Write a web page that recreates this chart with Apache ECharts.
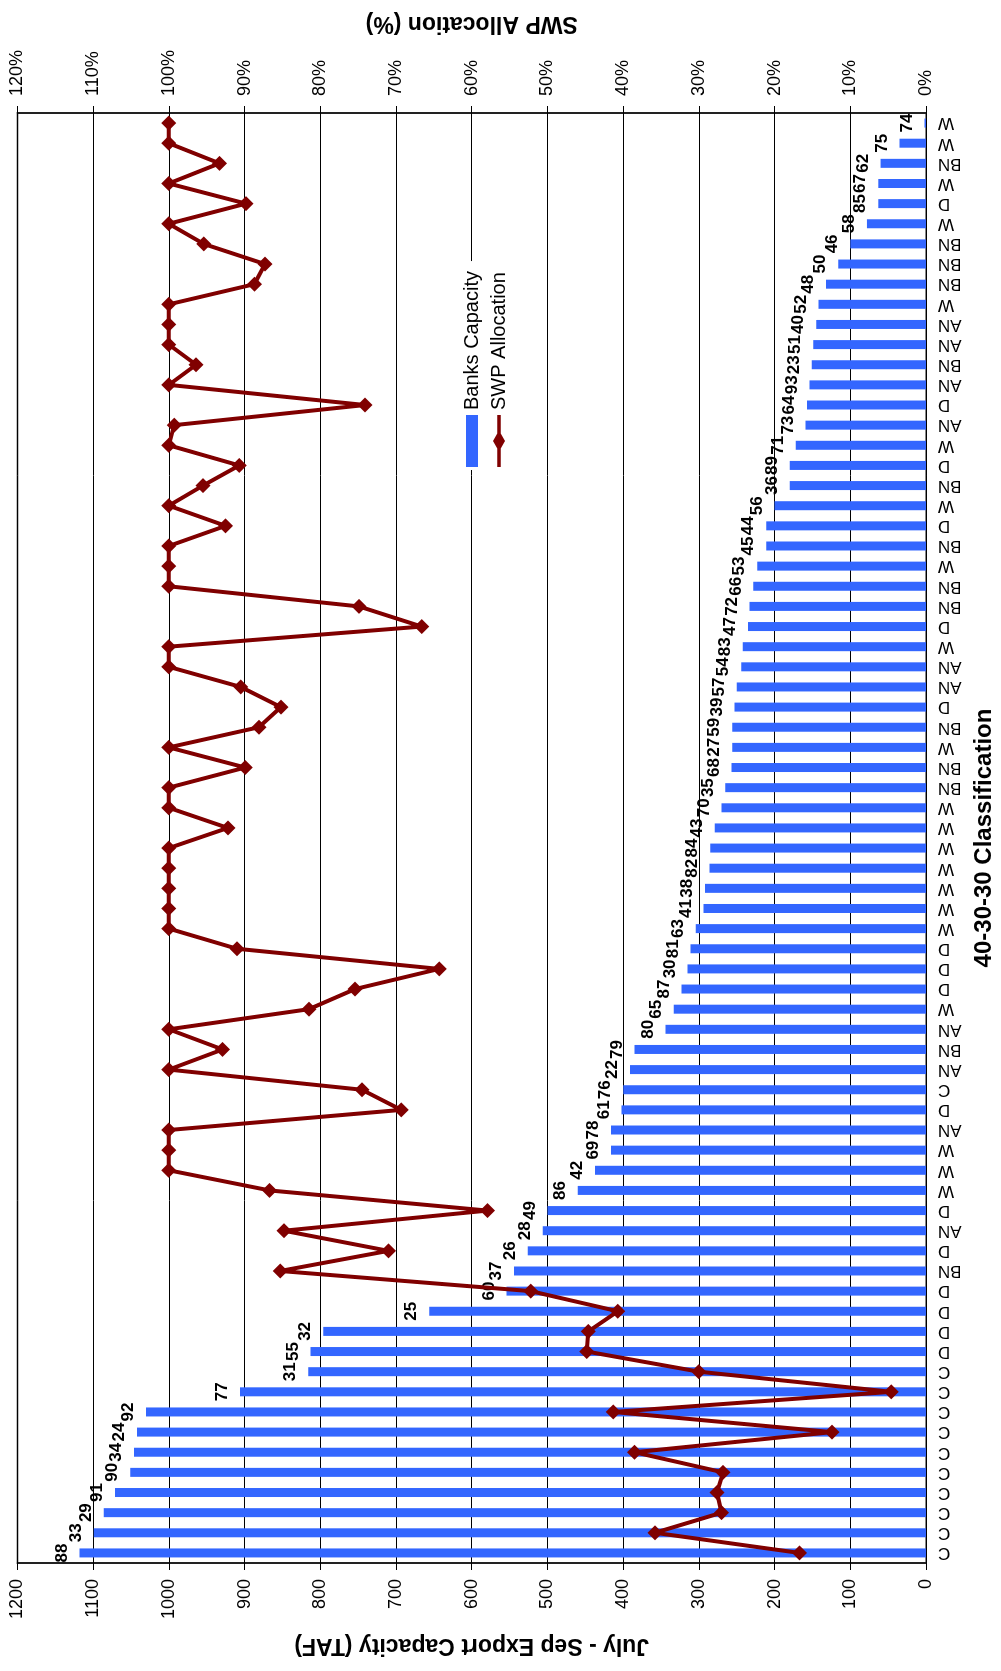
<!DOCTYPE html>
<html>
<head>
<meta charset="utf-8">
<script src="https://cdn.jsdelivr.net/npm/echarts@6/dist/echarts.min.js"></script>
<style>
html,body{margin:0;padding:0;background:#fff;overflow:hidden;width:1001px;height:1671px;}
#wrap{position:absolute;left:0;top:0;width:1671px;height:1001px;transform-origin:0 0;transform:translate(0,1671px) rotate(-90deg);}
#chart{width:1671px;height:1001px;}
</style>
</head>
<body>
<div id="wrap"><div id="chart"></div></div>
<script>
// 40-30-30 classification of each year (sorted by Banks capacity, descending)
const categories = ['C','C','C','C','C','C','C','C','C','C',
  'D','D','D','D','BN','D','AN','D','W','W','W','AN','D','C','AN','BN','AN','W','D','D',
  'D','W','W','W','W','W','W','W','BN','BN','W','BN','D','AN','AN','W','D','BN','BN','W',
  'BN','D','W','BN','D','W','AN','D','AN','BN','AN','AN','W','BN','BN','BN','W','D','W','BN',
  'W','W'];
// Year labels on the bars
const years = ['88','33','29','91','90','34','24','92','77','31',
  '55','32','25','60','37','26','28','49','86','42','69','78','61','76','22','79','80','65','87','30',
  '81','63','41','38','82','84','43','70','35','68','27','59','39','57','54','83','47','72','66','53',
  '45','44','56','36','89','71','73','64','93','23','51','40','52','48','50','46','58','85','67','62',
  '75','74'];
// Banks capacity (TAF)
const capacity = [1118,1099,1086,1071,1051,1046,1042,1030,906,816,
  813,796,656,554,544,526,506,500,460,437,416,416,402,400,391,385,344,333,323,315,
  311,304,294,292,286,285,279,270,265,257,256,256,253,250,244,242,235,233,228,223,
  211,211,200,180,180,172,159,157,154,151,149,145,142,132,116,100,78,63,63,60,
  35,2];
// SWP allocation (%)
const swp = [16.7,35.8,27,27.6,26.8,38.5,12.4,41.3,4.6,30,
  44.8,44.6,40.7,52.2,85.3,71,84.8,57.9,86.7,100,100,100,69.3,74.5,100,92.9,100,81.5,75.4,64.3,
  91,100,100,100,100,100,92.2,100,100,89.9,100,88.1,85.2,90.5,100,100,66.6,74.9,100,100,
  100,92.5,100,95.5,90.7,100,99.3,74.1,100,96.4,100,100,100,88.7,87.3,95.4,100,89.8,100,93.3,
  100,100];
const capTicks = [0,1200,100];
const pctTicks = [0,120,10];

const FONT = "'Liberation Sans', Arial, Helvetica, sans-serif";
const lineIcon = 'path://M0,4.3L18.5,4.3L26,0L33.5,4.3L52,4.3L52,7.7L33.5,7.7L26,12L18.5,7.7L0,7.7Z';
const chart = echarts.init(document.getElementById('chart'), null, {width:1671, height:1001, renderer:'canvas'});
const option = {
  backgroundColor:'#fff',
  animation:false,
  textStyle:{fontFamily:FONT},
  grid:{left:108, right:113, top:17.4, bottom:70.6, show:true, borderColor:'#888', borderWidth:2, backgroundColor:'transparent'},
  legend:{
    orient:'vertical', left:1201, top:457, padding:[5,10,5,3], itemGap:7, itemWidth:52, itemHeight:12,
    backgroundColor:'#fff',
    textStyle:{fontSize:20, color:'#000', fontFamily:FONT},
    data:[{name:'Banks Capacity', icon:'rect'},{name:'SWP Allocation', icon:lineIcon}]
  },
  xAxis:[{
    type:'category', data:categories, position:'bottom',
    axisLine:{lineStyle:{color:'#000', width:1}},
    axisTick:{length:5, lineStyle:{color:'#000'}},
    axisLabel:{rotate:90, interval:0, margin:12, fontSize:17, color:'#000', fontFamily:FONT},
    name:'40-30-30 Classification', nameLocation:'middle', nameGap:46,
    nameTextStyle:{fontSize:24, fontWeight:'bold', color:'#000', fontFamily:FONT}
  },{
    type:'category', data:categories, position:'bottom',
    axisLine:{show:false},
    axisTick:{inside:true, length:7, lineStyle:{color:'#000'}},
    axisLabel:{show:false}
  }],
  yAxis:[{
    type:'value', min:capTicks[0], max:capTicks[1], interval:capTicks[2], position:'left',
    axisLine:{show:true, lineStyle:{color:'#000', width:1.5}},
    axisTick:{show:true, length:7, lineStyle:{color:'#000'}},
    axisLabel:{margin:16, fontSize:18, color:'#000', fontFamily:FONT, formatter:v=>String(v)},
    splitLine:{show:true, lineStyle:{color:'#000', width:1}},
    name:'July - Sep Export Capacity (TAF)', nameLocation:'middle', nameGap:71, nameRotate:90,
    nameTextStyle:{fontSize:23, fontWeight:'bold', color:'#000', fontFamily:FONT}
  },{
    type:'value', min:pctTicks[0], max:pctTicks[1], interval:pctTicks[2], position:'right',
    axisLine:{show:true, lineStyle:{color:'#000', width:1.5}},
    axisTick:{show:true, length:7, lineStyle:{color:'#000'}},
    axisLabel:{margin:17, fontSize:18, color:'#000', fontFamily:FONT, formatter:v=>v+'%'},
    splitLine:{show:false},
    name:'SWP Allocation (%)', nameLocation:'middle', nameGap:78, nameRotate:90,
    nameTextStyle:{fontSize:23, fontWeight:'bold', color:'#000', fontFamily:FONT}
  }],
  series:[{
    type:'bar', name:'Banks Capacity', data:capacity, barWidth:9,
    itemStyle:{color:'#3366FF'},
    label:{show:true, position:'top', distance:9, formatter:p=>years[p.dataIndex],
      fontSize:17, fontWeight:'bold', color:'#000', fontFamily:FONT}
  },{
    type:'line', name:'SWP Allocation', yAxisIndex:1, data:swp,
    symbol:'diamond', symbolSize:15,
    lineStyle:{color:'#800000', width:4},
    itemStyle:{color:'#800000'}, z:3
  }]
};
chart.setOption(option);
</script>
</body>
</html>
